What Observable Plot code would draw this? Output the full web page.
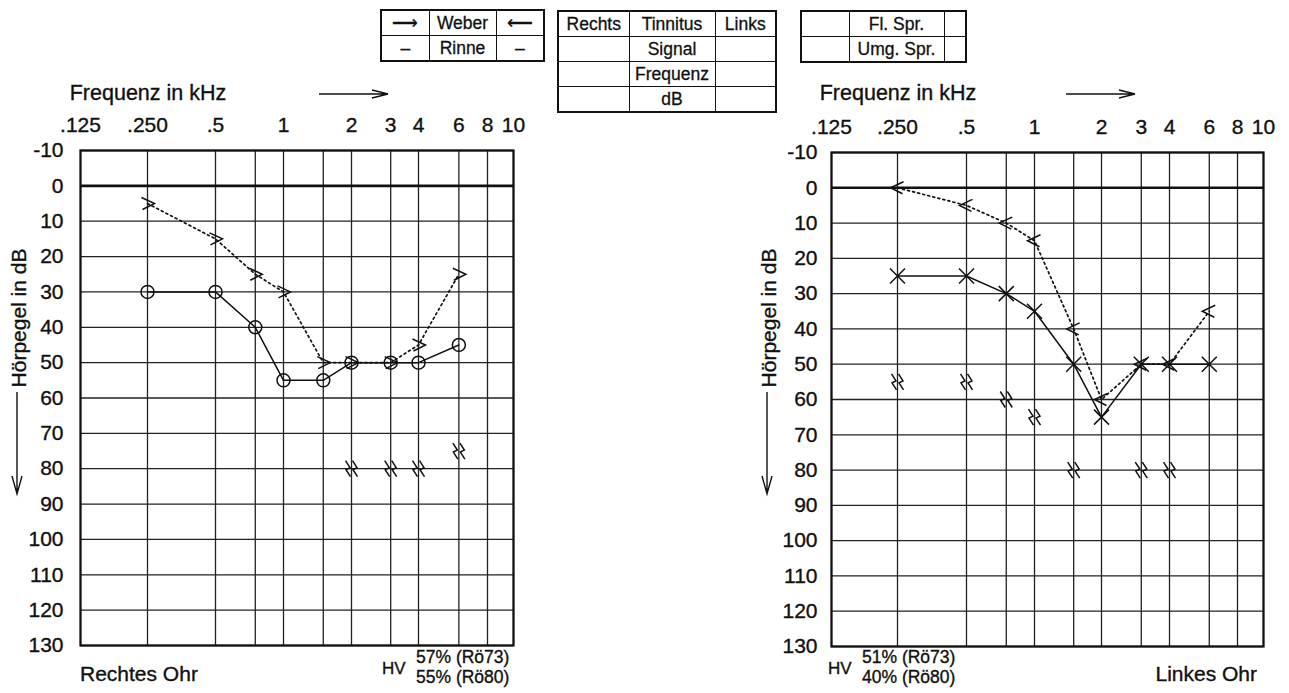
<!DOCTYPE html>
<html><head><meta charset="utf-8">
<script src="https://cdn.jsdelivr.net/npm/d3@7"></script>
<script src="https://cdn.jsdelivr.net/npm/@observablehq/plot@0.6"></script>
<style>
body{margin:0;background:#fff;}
#root{position:relative;width:1289px;height:693px;overflow:hidden;font-family:"Liberation Sans",Arial,sans-serif;color:#111;background:#fff;}
.panel{position:absolute;top:0;}
.panel text{stroke:#111;stroke-width:0.35px;}
table.box{position:absolute;border-collapse:collapse;border:2px solid #111;font-size:17.5px;z-index:2;table-layout:fixed;-webkit-text-stroke:0.3px #111;}
table.box td{border:1.4px solid #111;text-align:center;padding:0;height:24px;line-height:23px;white-space:nowrap;overflow:hidden;}
</style></head><body><div id="root"></div>
<script>
// ---------- data ----------
const freqTicks = [0.125, 0.25, 0.5, 1, 2, 3, 4, 6, 8, 10];
const freqTickLabels = [".125", ".250", ".5", "1", "2", "3", "4", "6", "8", "10"];
const freqGrid = [0.125, 0.25, 0.5, 0.75, 1, 1.5, 2, 3, 4, 6, 8, 10];
const octaveFreqs = [0.125, 0.25, 0.5, 1, 2, 4, 8, 10];
const dbTicks = [-10, 0, 10, 20, 30, 40, 50, 60, 70, 80, 90, 100, 110, 120, 130];
const freqs = [0.25, 0.5, 0.75, 1, 1.5, 2, 3, 4, 6];
// Rechtes Ohr
const rightAir = [30, 30, 40, 55, 55, 50, 50, 50, 45];
const rightBone = [5, 15, 25, 30, 50, 50, 50, 45, 25];
const rightUclFreqs = [2, 3, 4, 6];
const rightUcl = [80, 80, 80, 75];
// Linkes Ohr
const leftAir = [25, 25, 30, 35, 50, 65, 50, 50, 50];
const leftBone = [0, 5, 10, 15, 40, 60, 50, 50, 35];
const leftUclFreqs = [0.25, 0.5, 0.75, 1, 1.5, 3, 4];
const leftUcl = [55, 55, 60, 65, 80, 80, 80];
// texts
const xTitle = "Frequenz in kHz";
const yTitle = "Hörpegel in dB";
const rightEarName = "Rechtes Ohr";
const leftEarName = "Linkes Ohr";
const rightHV = ["57% (Rö73)", "55% (Rö80)"];
const leftHV = ["51% (Rö73)", "40% (Rö80)"];
const box1Rows = [["⟶", "Weber", "⟵"], ["–", "Rinne", "–"]];
const box2Rows = [["Rechts", "Tinnitus", "Links"], ["", "Signal", ""], ["", "Frequenz", ""], ["", "dB", ""]];
const box3Rows = [["", "Fl. Spr.", ""], ["", "Umg. Spr.", ""]];

// ---------- symbols ----------
const gtSymbol = {draw(c) { c.moveTo(-6, -6); c.lineTo(7, 0); c.lineTo(-5, 6); }};
const ltSymbol = {draw(c) { c.moveTo(6, -6); c.lineTo(-7, 0); c.lineTo(5, 6); }};
const xSymbol = {draw(c) { const r = 7.5; c.moveTo(-r, -r); c.lineTo(r, r); c.moveTo(r, -r); c.lineTo(-r, r); }};
const zigSymbol = {draw(c) { for (const dx of [-3.5, 3.5]) { c.moveTo(dx - 2.5, -8); c.lineTo(dx + 2, -1); c.lineTo(dx - 2, 1); c.lineTo(dx + 2.5, 8); } }};

const FONT = '"Liberation Sans", Arial, sans-serif';
const root = document.getElementById("root");

function panel(cfg) {
  const air = freqs.map((f, i) => ({f, db: cfg.air[i]}));
  const bone = freqs.map((f, i) => ({f, db: cfg.bone[i]}));
  const ucl = cfg.uclFreqs.map((f, i) => ({f, db: cfg.ucl[i]}));
  const tickData = freqTicks.map((f, i) => ({f, label: freqTickLabels[i]}));
  const airDot = cfg.airSym === "circle"
    ? Plot.dot(air, {x: "f", y: "db", r: 6.5, fill: "none", stroke: "#111", strokeWidth: 1.5})
    : Plot.dot(air, {x: "f", y: "db", symbol: cfg.airSym, fill: "none", stroke: "#111", strokeWidth: 1.5});
  const svg = Plot.plot({
    width: cfg.width, height: 693,
    marginLeft: cfg.ml, marginRight: cfg.mr, marginTop: cfg.mt, marginBottom: cfg.mb,
    style: {fontFamily: FONT, fontSize: "21px", color: "#111", background: "transparent", overflow: "visible"},
    x: {type: "log", domain: octaveFreqs, range: cfg.xRange, axis: null},
    y: {domain: [-10, 130], reverse: true},
    marks: [
      Plot.ruleX(freqGrid, {stroke: "#222", strokeWidth: 1.3}),
      Plot.ruleY(dbTicks, {stroke: "#222", strokeWidth: 1.3}),
      Plot.ruleY([0], {stroke: "#111", strokeWidth: 2.6}),
      Plot.frame({stroke: "#111", strokeWidth: 2.2}),
      Plot.text(tickData, {x: "f", text: "label", frameAnchor: "top", dy: -33, fontSize: 21, fill: "#111"}),
      Plot.axisY({anchor: "left", ticks: dbTicks, tickFormat: d => String(d), tickSize: 0, tickPadding: cfg.tickPad, label: null}),
      Plot.line(bone, {x: "f", y: "db", stroke: "#111", strokeWidth: 1.7, strokeDasharray: "2,3.2"}),
      Plot.line(air, {x: "f", y: "db", stroke: "#111", strokeWidth: 1.5}),
      Plot.dot(bone, {x: "f", y: "db", symbol: cfg.boneSym, fill: "none", stroke: "#111", strokeWidth: 1.5}),
      airDot,
      Plot.dot(ucl, {x: "f", y: "db", symbol: zigSymbol, fill: "none", stroke: "#111", strokeWidth: 1.5})
    ]
  });
  svg.classList.add("panel");
  svg.style.left = cfg.left + "px";
  const s = d3.select(svg);
  const ox = cfg.left;
  // x title with arrow
  s.append("text").attr("x", cfg.titleX - ox).attr("y", 100).attr("font-size", 21.5).attr("fill", "#111").text(xTitle);
  const ax1 = cfg.arrowX1 - ox, ax2 = cfg.arrowX2 - ox, ay = 94;
  s.append("path").attr("d", `M${ax1},${ay}L${ax2},${ay}M${ax2 - 16},${ay - 4}L${ax2},${ay}L${ax2 - 16},${ay + 4}`)
    .attr("stroke", "#111").attr("fill", "none").attr("stroke-width", 1.4);
  // y title with arrow
  const yx = cfg.yLabelX - ox;
  s.append("text").attr("transform", `translate(${yx},318) rotate(-90)`).attr("text-anchor", "middle")
    .attr("dy", "0.35em").attr("font-size", 21).attr("fill", "#111").text(yTitle);
  s.append("path").attr("d", `M${yx - 2},392L${yx - 2},494M${yx - 7},476L${yx - 2},494L${yx + 3},476`)
    .attr("stroke", "#111").attr("fill", "none").attr("stroke-width", 1.4);
  // bottom texts
  const t = (x, y, txt, size, anchor = "start") => s.append("text").attr("x", x - ox).attr("y", y)
    .attr("font-size", size).attr("text-anchor", anchor).attr("fill", "#111").text(txt);
  t(cfg.earX, 681, cfg.ear, 21, cfg.earAnchor);
  t(cfg.hvX, 674, "HV", 17);
  t(cfg.hvTextX, 663, cfg.hv[0], 17.5);
  t(cfg.hvTextX, 683, cfg.hv[1], 17.5);
  root.appendChild(svg);
}

panel({left: 0, width: 540, ml: 80, mr: 27, mt: 150, mb: 48, tickPad: 17,
  xRange: [80, 147, 215, 283, 351, 418, 487, 513],
  air: rightAir, bone: rightBone, uclFreqs: rightUclFreqs, ucl: rightUcl,
  airSym: "circle", boneSym: gtSymbol,
  titleX: 148, arrowX1: 319, arrowX2: 388, yLabelX: 19,
  ear: rightEarName, earX: 80, earAnchor: "start", hvX: 382, hvTextX: 416, hv: rightHV});

panel({left: 750, width: 539, ml: 81, mr: 26, mt: 152, mb: 47, tickPad: 14,
  xRange: [81, 147, 216, 284, 351, 419, 487, 513],
  air: leftAir, bone: leftBone, uclFreqs: leftUclFreqs, ucl: leftUcl,
  airSym: xSymbol, boneSym: ltSymbol,
  titleX: 898, arrowX1: 1066, arrowX2: 1135, yLabelX: 769,
  ear: leftEarName, earX: 1257, earAnchor: "end", hvX: 828, hvTextX: 862, hv: leftHV});

function box(rows, left, top, widths) {
  const tb = document.createElement("table");
  tb.className = "box";
  tb.style.left = left + "px"; tb.style.top = top + "px";
  tb.style.width = widths.reduce((a, b) => a + b, 0) + "px";
  const cg = document.createElement("colgroup");
  widths.forEach(w => { const c = document.createElement("col"); c.style.width = w + "px"; cg.appendChild(c); });
  tb.appendChild(cg);
  rows.forEach(r => {
    const tr = document.createElement("tr");
    r.forEach(v => { const td = document.createElement("td"); td.textContent = v; tr.appendChild(td); });
    tb.appendChild(tr);
  });
  root.appendChild(tb);
}
box(box1Rows, 380, 9, [48, 67, 48]);
box(box2Rows, 557, 10, [71, 86, 61]);
box(box3Rows, 800, 10, [48, 95, 22]);
</script></body></html>
